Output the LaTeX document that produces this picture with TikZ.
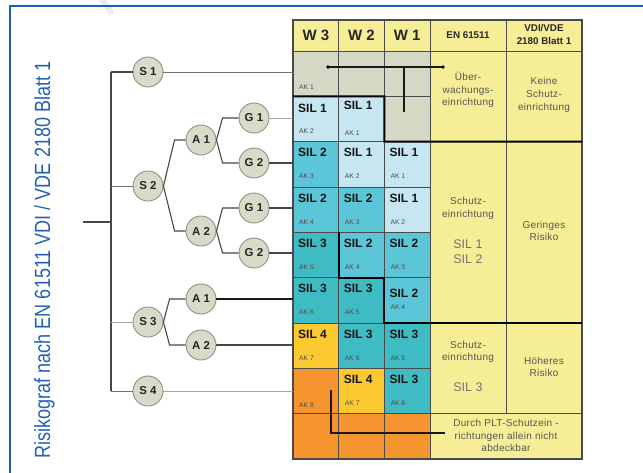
\documentclass[tikz,border=0pt]{standalone}
\usepackage{fontspec}
\setmainfont{Liberation Sans}
\usetikzlibrary{calc}
\definecolor{frameblue}{HTML}{1F5FB5}
\definecolor{txtblue}{HTML}{2562B2}
\definecolor{hdryel}{HTML}{F6EE96}
\definecolor{cgray}{HTML}{D4D8C5}
\definecolor{clblue}{HTML}{C6E7F1}
\definecolor{csiltwo}{HTML}{5BC6D8}
\definecolor{csilthree}{HTML}{3FBBC3}
\definecolor{csilfour}{HTML}{FCC930}
\definecolor{corange}{HTML}{F6952F}
\definecolor{nodefill}{HTML}{D6DCC7}
\definecolor{nodeline}{HTML}{8C9183}
\definecolor{gridline}{HTML}{4A4A4A}
\definecolor{rtxt}{HTML}{555555}
\newcommand\fs[1]{\fontsize{#1}{#1}\selectfont}
\newcommand\mycell[8]{%
  \node[cellbox, fill=#4] (#1) at (#2,#3) {};
  \node[siltxt] at ($(#1.north west)+(5,#7)$) {#5};
  \node[aktxt] at ($(#1.north west)+(6,#8)$) {#6};
}
\tikzset{
  cellbox/.style={draw=gridline, line width=0.6pt, anchor=north west, minimum width=45.67pt, minimum height=45.33pt, inner sep=0pt, outer sep=0pt},
  rbox/.style={draw=gridline, line width=0.6pt, anchor=north west, fill=hdryel, minimum width=76pt, inner sep=0pt, outer sep=0pt},
  siltxt/.style={anchor=base west, inner sep=0pt, font=\bfseries\fs{12}, text=black!92},
  aktxt/.style={anchor=base west, inner sep=0pt, font=\fs{6.8}, text=black!70},
  rtext/.style={align=center, inner sep=0pt, text=rtxt, font=\fontsize{10}{12.8}\selectfont\addfontfeature{LetterSpace=3}},
  rsil/.style={align=center, inner sep=0pt, text=black!55, font=\fontsize{12.5}{15}\selectfont},
  hdrtxt/.style={align=center, inner sep=0pt, text=black!85, font=\bfseries\fontsize{9.8}{13}\selectfont},
  circ/.style={circle, draw=nodeline, fill=nodefill, line width=0.9pt, minimum size=30pt, inner sep=0pt, font=\bfseries\fs{11.5}, text=black!85},
  lnDark/.style={draw=black!72, line width=1.1pt},
  lnMid/.style={draw=black!55, line width=1pt},
  lnLight/.style={draw=black!35, line width=1pt},
  lnBlack/.style={draw=black!90, line width=1.6pt},
  thickb/.style={draw=black, line width=2pt},
  marker/.style={draw=black!90, line width=1.6pt},
}
\begin{document}
\begin{tikzpicture}[x=1pt,y=-1pt]
\useasboundingbox (0,0) rectangle (643,472);
% faint stroke and frame
\draw[black!8, line width=6pt] (101,-2) -- (112,14);
\draw[frameblue, line width=2pt] (10,474) -- (10,6) -- (645,6);
% title
\node[rotate=90, anchor=base, text=txtblue, inner sep=0pt] (title) at (50,260)
  {\scalebox{0.82}[1]{\fs{22}Risikograf nach EN 61511 VDI / VDE 2180 Blatt 1}};
% header
\node[cellbox, fill=hdryel, minimum height=31pt] (hWc) at (293,20) {};
\node[cellbox, fill=hdryel, minimum height=31pt] (hWb) at (338.67,20) {};
\node[cellbox, fill=hdryel, minimum height=31pt] (hWa) at (384.33,20) {};
\node[rbox, minimum height=31pt] (hEN) at (430,20) {};
\node[rbox, minimum height=31pt] (hVD) at (506,20) {};
\node[font=\bfseries\fs{15}, text=black!85] at (hWc.center) {W 3};
\node[font=\bfseries\fs{15}, text=black!85] at (hWb.center) {W 2};
\node[font=\bfseries\fs{15}, text=black!85] at (hWa.center) {W 1};
\node[hdrtxt] at (hEN.center) {EN 61511};
\node[hdrtxt] at ($(hVD.center)+(0,-1)$) {VDI/VDE\\2180 Blatt 1};
% grid cells: W3 = a, W2 = b, W1 = c
\mycell{a1}{293}{51}{cgray}{}{AK 1}{16}{38}
\mycell{b1}{338.67}{51}{cgray}{}{}{16}{38}
\mycell{c1}{384.33}{51}{cgray}{}{}{16}{38}
\mycell{a2}{293}{96.33}{clblue}{SIL 1}{AK 2}{16}{37}
\mycell{b2}{338.67}{96.33}{clblue}{SIL 1}{AK 1}{13}{39}
\mycell{c2}{384.33}{96.33}{cgray}{}{}{16}{37}
\mycell{a3}{293}{141.67}{csiltwo}{SIL 2}{AK 3}{15}{37}
\mycell{b3}{338.67}{141.67}{clblue}{SIL 1}{AK 2}{15}{37}
\mycell{c3}{384.33}{141.67}{clblue}{SIL 1}{AK 1}{15}{37}
\mycell{a4}{293}{187}{csiltwo}{SIL 2}{AK 4}{15}{37}
\mycell{b4}{338.67}{187}{csiltwo}{SIL 2}{AK 3}{15}{37}
\mycell{c4}{384.33}{187}{clblue}{SIL 1}{AK 2}{15}{37}
\mycell{a5}{293}{232.33}{csilthree}{SIL 3}{AK 5}{15}{37}
\mycell{b5}{338.67}{232.33}{csiltwo}{SIL 2}{AK 4}{15}{37}
\mycell{c5}{384.33}{232.33}{csiltwo}{SIL 2}{AK 3}{15}{37}
\mycell{a6}{293}{277.67}{csilthree}{SIL 3}{AK 6}{15}{37}
\mycell{b6}{338.67}{277.67}{csilthree}{SIL 3}{AK 5}{15}{37}
\mycell{c6}{384.33}{277.67}{csiltwo}{SIL 2}{AK 4}{20}{32}
\mycell{a7}{293}{323}{csilfour}{SIL 4}{AK 7}{15}{37}
\mycell{b7}{338.67}{323}{csilthree}{SIL 3}{AK 6}{15}{37}
\mycell{c7}{384.33}{323}{csilthree}{SIL 3}{AK 5}{15}{37}
\mycell{a8}{293}{368.33}{corange}{}{AK 8}{15}{39}
\mycell{b8}{338.67}{368.33}{csilfour}{SIL 4}{AK 7}{15}{37}
\mycell{c8}{384.33}{368.33}{csilthree}{SIL 3}{AK 6}{15}{37}
\mycell{a9}{293}{413.67}{corange}{}{}{15}{37}
\mycell{b9}{338.67}{413.67}{corange}{}{}{15}{37}
\mycell{c9}{384.33}{413.67}{corange}{}{}{15}{37}
% right columns
\node[rbox, minimum height=90.67pt] (en1) at (430,51) {};
\node[rbox, minimum height=90.67pt] (vd1) at (506,51) {};
\node[rbox, minimum height=181.33pt] (en2) at (430,141.67) {};
\node[rbox, minimum height=181.33pt] (vd2) at (506,141.67) {};
\node[rbox, minimum height=90.67pt] (en3) at (430,323) {};
\node[rbox, minimum height=90.67pt] (vd3) at (506,323) {};
\node[rbox, minimum width=152pt, minimum height=45.33pt] (bot) at (430,413.67) {};
\node[rtext] at (468,90) {Über-\\wachungs-\\einrichtung};
\node[rtext] at (544,95) {Keine\\Schutz-\\einrichtung};
\node[rtext] at (468,208.5) {Schutz-\\einrichtung};
\node[rsil] at (468,251.5) {SIL 1\\SIL 2};
\node[rtext] at (544,231) {Geringes\\Risiko};
\node[rtext] at (468,352) {Schutz-\\einrichtung};
\node[rsil] at (468,387) {SIL 3};
\node[rtext] at (544,367) {Höheres\\Risiko};
\node[rtext] at (506,435.5) {Durch PLT-Schutzein -\\richtungen allein nicht\\abdeckbar};
% outer border
\draw[gridline, line width=1.1pt] (hWc.north west) rectangle (bot.south east);
% thick boundaries
\draw[thickb] (a2.north west) -- (b2.north east) -- (b2.south east) -- (vd2.north east);
\draw[thickb] (b5.north west) -- (b5.south west) -- (b5.south east) -- (b6.south east) -- (vd2.south east);
% markers
\coordinate (dL) at (328,67);
\coordinate (dR) at (443,67);
\coordinate (dV) at (404,112);
\draw[draw=black!90, line width=1.3pt] (dL) -- (dR);
\draw[draw=black!90, line width=1.3pt] (dL -| dV) -- (dV);
\fill[black] (dL) circle (1.9);
\fill[black] (dR) circle (1.9);
\coordinate (m1) at (331,390);
\coordinate (m2) at (331,433);
\coordinate (m3) at (445,433);
\draw[marker] (m1) -- (m2) -- (m3);
% tree nodes
\node[circ] (S1) at (148,72) {S 1};
\node[circ] (S2) at (148,186) {S 2};
\node[circ] (A1a) at (201,140) {A 1};
\node[circ] (A2a) at (201,231) {A 2};
\node[circ] (G1a) at (254,118) {G 1};
\node[circ] (G2a) at (254,163) {G 2};
\node[circ] (G1b) at (254,208) {G 1};
\node[circ] (G2b) at (254,253) {G 2};
\node[circ] (S3) at (148,322) {S 3};
\node[circ] (A1b) at (201,299) {A 1};
\node[circ] (A2b) at (201,345) {A 2};
\node[circ] (S4) at (148,391) {S 4};
\coordinate (root) at (83,222);
\coordinate (tTop) at (111,72);
\coordinate (tBot) at (111,391);
% trunk
\draw[lnDark] (tTop) -- (tBot);
\draw[lnDark] (root) -- (root -| tTop);
\draw[lnDark] (tTop) -- (S1);
\draw[lnMid] (tTop |- S2) -- (S2);
\draw[lnLight] (tTop |- S3) -- (S3);
\draw[lnMid] (tTop |- S4) -- (S4);
% branches
\draw[lnDark] (S2.east) -- ([xshift=-11pt]A1a.west) -- (A1a.west);
\draw[lnDark] (S2.east) -- ([xshift=-11pt]A2a.west) -- (A2a.west);
\draw[lnDark] (A1a.east) -- ([xshift=-16pt]G1a.west) -- (G1a.west);
\draw[lnDark] (A1a.east) -- ([xshift=-16pt]G2a.west) -- (G2a.west);
\draw[lnDark] (A2a.east) -- ([xshift=-16pt]G1b.west) -- (G1b.west);
\draw[lnDark] (A2a.east) -- ([xshift=-16pt]G2b.west) -- (G2b.west);
\draw[lnDark] (S3.east) -- ([xshift=-16pt]A1b.west) -- (A1b.west);
\draw[lnDark] (S3.east) -- ([xshift=-16pt]A2b.west) -- (A2b.west);
% to table
\draw[lnMid] (S1) -- (S1 -| a1.west);
\draw[lnLight] (G1a) -- (G1a -| a2.west);
\draw[lnDark] (G2a) -- (G2a -| a3.west);
\draw[lnDark] (G1b) -- (G1b -| a4.west);
\draw[lnDark] (G2b) -- (G2b -| a5.west);
\draw[lnBlack] (A1b) -- (A1b -| a6.west);
\draw[lnDark] (A2b) -- (A2b -| a7.west);
\draw[lnLight] (S4) -- (S4 -| a8.west);
\end{tikzpicture}
\end{document}
